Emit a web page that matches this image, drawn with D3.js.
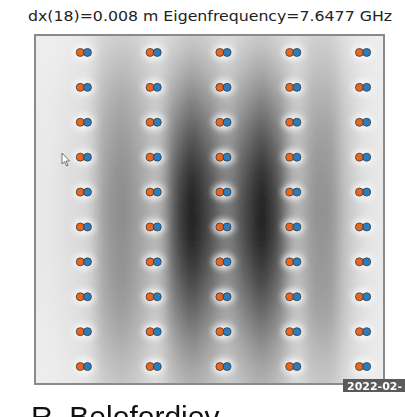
<!doctype html>
<html lang="en">
<head>
<meta charset="UTF-8">
<title>Eigenmode field</title>
<style>
  body { margin: 0; background: #fff; }
  svg { display: block; }
  .title { font-family: "DejaVu Sans", sans-serif; font-size: 14.5px; fill: #222; }
  .author { font-family: "Liberation Sans", Arial, sans-serif; font-size: 30px; fill: #111; }
  .stamp { font-family: "DejaVu Sans", sans-serif; font-size: 11px; font-weight: bold; fill: #fff; }
</style>
</head>
<body>
<svg id="chart"></svg>
<script src="https://d3js.org/d3.v7.min.js"></script>
<script>

// Title text
var titleText = "dx(18)=0.008 m Eigenfrequency=7.6477 GHz";

// Pin positions (grid units, frame runs 0..10 each way)
var pinX = [1.4, 3.4, 5.4, 7.4, 9.4];
var pinY = [0.5, 1.5, 2.5, 3.5, 4.5, 5.5, 6.5, 7.5, 8.5, 9.5];

// Field sample positions
var fieldX = [0, 0.5, 1, 1.5, 2, 2.5, 3, 3.5, 4, 4.5, 5, 5.5, 6, 6.5, 7, 7.5, 8, 8.5, 9, 9.5, 10];
var fieldY = [0, 1, 2, 3, 4, 5, 6, 7, 8, 9, 10];

// Field magnitude (0 = light, 1 = dark), one row per fieldY value
var field = [
	[.01,.01,.02,.04,.12,.15,.12,.07,.12,.17,.13,.08,.13,.17,.12,.07,.14,.14,.05,.02,.01],
	[.02,.02,.04,.06,.20,.25,.19,.11,.24,.33,.26,.16,.26,.33,.24,.11,.22,.22,.09,.03,.02],
	[.02,.03,.06,.08,.28,.34,.27,.15,.40,.54,.42,.27,.42,.54,.40,.15,.30,.30,.13,.04,.02],
	[.03,.03,.07,.10,.33,.40,.32,.19,.56,.74,.58,.38,.58,.74,.56,.19,.37,.37,.15,.05,.03],
	[.03,.04,.08,.11,.37,.45,.35,.22,.70,.92,.72,.47,.72,.92,.70,.22,.41,.41,.17,.06,.03],
	[.03,.04,.08,.12,.39,.47,.37,.24,.76,1.0,.78,.52,.78,1.0,.76,.24,.43,.43,.18,.06,.03],
	[.03,.04,.08,.11,.37,.45,.35,.23,.73,.96,.75,.50,.75,.96,.73,.23,.41,.41,.17,.06,.03],
	[.03,.04,.07,.11,.35,.43,.33,.20,.62,.82,.64,.42,.64,.82,.62,.20,.39,.39,.16,.05,.03],
	[.02,.03,.06,.10,.31,.38,.29,.16,.48,.63,.49,.32,.49,.63,.48,.16,.35,.35,.14,.05,.02],
	[.02,.02,.05,.07,.24,.29,.22,.12,.33,.44,.34,.22,.34,.44,.33,.12,.26,.26,.11,.04,.02],
	[.01,.02,.03,.05,.16,.20,.15,.08,.22,.29,.23,.15,.23,.29,.22,.08,.18,.18,.07,.02,.01]
];

var width = 405, height = 417;
var frame = {left: 35, top: 35, right: 384, bottom: 384};

var svg = d3.select("#chart")
	.attr("width", width)
	.attr("height", height);

var x = d3.scaleLinear().domain([0, 10]).range([frame.left, frame.right]);
var y = d3.scaleLinear().domain([0, 10]).range([frame.top, frame.bottom]);
var color = d3.scaleLinear().domain([0, 1]).range(["#f0f0f0", "#141414"]);

var defs = svg.append("defs");
defs.append("clipPath").attr("id", "frameClip")
	.append("rect")
	.attr("x", frame.left).attr("y", frame.top)
	.attr("width", frame.right - frame.left)
	.attr("height", frame.bottom - frame.top);

defs.append("filter").attr("id", "fieldBlur")
	.attr("x", "-20%").attr("y", "-20%").attr("width", "140%").attr("height", "140%")
	.append("feGaussianBlur").attr("stdDeviation", "7 15");

defs.append("filter").attr("id", "haloBlur")
	.attr("x", "-100%").attr("y", "-100%").attr("width", "300%").attr("height", "300%")
	.append("feGaussianBlur").attr("stdDeviation", 3);

// Title
svg.append("text")
	.attr("class", "title")
	.attr("x", (frame.left + frame.right) / 2 + 0.5)
	.attr("y", 21)
	.attr("text-anchor", "middle")
	.attr("textLength", 364)
	.attr("lengthAdjust", "spacingAndGlyphs")
	.text(titleText);

var plot = svg.append("g").attr("clip-path", "url(#frameClip)");

plot.append("rect")
	.attr("x", frame.left).attr("y", frame.top)
	.attr("width", frame.right - frame.left)
	.attr("height", frame.bottom - frame.top)
	.attr("fill", color(0));

// cell edges halfway between samples, outer cells pushed past the frame
function edges(vals) {
	return vals.map(function(v, i) {
		var lo = i === 0 ? v - 1.5 : (vals[i - 1] + v) / 2;
		var hi = i === vals.length - 1 ? v + 1.5 : (vals[i + 1] + v) / 2;
		return [lo, hi];
	});
}
var ex = edges(fieldX), ey = edges(fieldY);

var cells = [];
field.forEach(function(row, i) {
	row.forEach(function(v, j) {
		cells.push({i: i, j: j, v: v});
	});
});

plot.append("g")
	.attr("filter", "url(#fieldBlur)")
	.selectAll("rect")
	.data(cells)
	.enter()
	.append("rect")
	.attr("x", function(d) { return x(ex[d.j][0]); })
	.attr("y", function(d) { return y(ey[d.i][0]); })
	.attr("width", function(d) { return x(ex[d.j][1]) - x(ex[d.j][0]) + 0.5; })
	.attr("height", function(d) { return y(ey[d.i][1]) - y(ey[d.i][0]) + 0.5; })
	.attr("fill", function(d) { return color(d.v); })
	.attr("shape-rendering", "crispEdges");

var pins = [];
pinY.forEach(function(py) {
	pinX.forEach(function(px) { pins.push({x: px, y: py}); });
});

// white glow around each pin pair
plot.append("g")
	.attr("filter", "url(#haloBlur)")
	.selectAll("ellipse")
	.data(pins)
	.enter()
	.append("ellipse")
	.attr("cx", function(d) { return x(d.x); })
	.attr("cy", function(d) { return y(d.y); })
	.attr("rx", 11)
	.attr("ry", 8)
	.attr("fill", "#fafafa")
	.attr("opacity", 0.9);

var pinG = plot.append("g");
pinG.selectAll("circle.a")
	.data(pins)
	.enter()
	.append("circle")
	.attr("class", "a")
	.attr("cx", function(d) { return x(d.x) - 3.6; })
	.attr("cy", function(d) { return y(d.y); })
	.attr("r", 4)
	.attr("fill", "#e8661e")
	.attr("stroke", "#3a3a3a")
	.attr("stroke-width", 0.8);
pinG.selectAll("circle.b")
	.data(pins)
	.enter()
	.append("circle")
	.attr("class", "b")
	.attr("cx", function(d) { return x(d.x) + 3.6; })
	.attr("cy", function(d) { return y(d.y); })
	.attr("r", 4)
	.attr("fill", "#2a7dc0")
	.attr("stroke", "#3a3a3a")
	.attr("stroke-width", 0.8);

// frame
svg.append("rect")
	.attr("x", frame.left).attr("y", frame.top)
	.attr("width", frame.right - frame.left)
	.attr("height", frame.bottom - frame.top)
	.attr("fill", "none")
	.attr("stroke", "#8a8a8a")
	.attr("stroke-width", 2);

// mouse pointer left in the capture
svg.append("path")
	.attr("d", "M62,153 L62,164 L64.5,161.5 L66.5,166 L68,165.3 L66,161 L69.5,161 Z")
	.attr("fill", "#fff")
	.attr("stroke", "#555")
	.attr("stroke-width", 0.8);

// caption cut off at the bottom, as in the capture
svg.append("text")
	.attr("class", "author")
	.attr("x", 31)
	.attr("y", 427)
	.text("R. Belofordiev");

// date stamp
svg.append("rect")
	.attr("x", 343).attr("y", 379)
	.attr("width", 70).attr("height", 13)
	.attr("fill", "#5a5a5a");
svg.append("text")
	.attr("class", "stamp")
	.attr("x", 347).attr("y", 389.5)
	.text("2022-02-");

</script>
</body>
</html>
